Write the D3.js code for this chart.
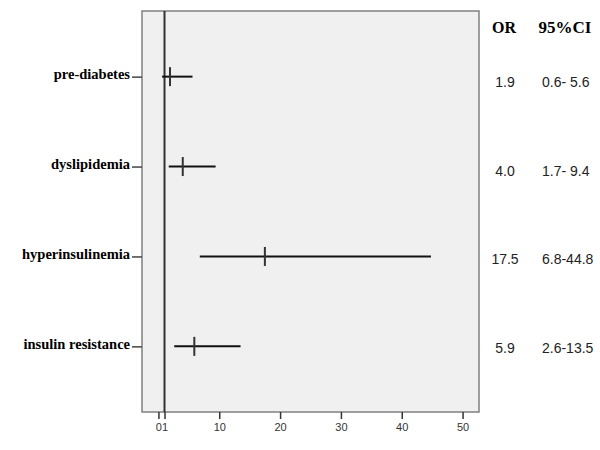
<!DOCTYPE html>
<html>
<head>
<meta charset="utf-8">
<script src="https://cdn.jsdelivr.net/npm/d3@7"></script>
<style>
  body { margin: 0; background: #fff; }
</style>
</head>
<body>
<script>
// data
let categories = ["pre-diabetes", "dyslipidemia", "hyperinsulinemia", "insulin resistance"];
let orValues = [1.9, 4.0, 17.5, 5.9];
let ciLow = [0.6, 1.7, 6.8, 2.6];
let ciHigh = [5.6, 9.4, 44.8, 13.5];
let orLabels = ["1.9", "4.0", "17.5", "5.9"];
let ciLabels = ["0.6- 5.6", "1.7- 9.4", "6.8-44.8", "2.6-13.5"];
let xTicks = [0, 1, 10, 20, 30, 40, 50];

let rows = categories.map(function (c, i) {
    return { cat: c, or: orValues[i], lo: ciLow[i], hi: ciHigh[i], orText: orLabels[i], ciText: ciLabels[i] };
});

let box = { left: 142, right: 479, top: 11, bottom: 412 };

let svg = d3.select("body")
    .append("svg")
    .attr("width", 600).attr("height", 450);

let xScale = d3.scaleLinear()
    .domain([-2.7, 52.7])
    .range([box.left, box.right]);

let yScale = d3.scalePoint()
    .domain(categories)
    .range([box.top, box.bottom])
    .padding(0.73);

// text rows of the table on the right sit a bit lower than the markers
let textY = d3.scalePoint()
    .domain(categories)
    .range([87, 353]);

// plot background
svg.append("rect")
    .attr("x", box.left).attr("y", box.top)
    .attr("width", box.right - box.left).attr("height", box.bottom - box.top)
    .attr("fill", "#f0f0f0")
    .attr("stroke", "#808080")
    .attr("stroke-width", 1.5);

// x axis
let xAxis = svg.append("g")
    .attr("transform", "translate(0," + box.bottom + ")")
    .call(d3.axisBottom(xScale).tickValues(xTicks).tickSize(7).tickSizeOuter(0).tickPadding(4));
xAxis.select(".domain").remove();
xAxis.selectAll("line").attr("stroke", "#333").attr("stroke-width", 1.5);
xAxis.selectAll("text")
    .attr("font-family", "Liberation Sans, Arial, sans-serif")
    .attr("font-size", 11)
    .attr("fill", "#333");

// y axis
let yAxis = svg.append("g")
    .attr("transform", "translate(" + box.left + ",0)")
    .call(d3.axisLeft(yScale).tickSize(10).tickPadding(2));
yAxis.select(".domain").remove();
yAxis.selectAll("line").attr("stroke", "#444").attr("stroke-width", 1.5);
yAxis.selectAll("text")
    .attr("dy", "0.15em")
    .attr("font-family", "Liberation Serif, Times New Roman, serif")
    .attr("font-weight", "bold")
    .attr("font-size", 14.5)
    .attr("fill", "#000");

// reference line at OR = 1
svg.append("line")
    .attr("x1", xScale(1)).attr("x2", xScale(1))
    .attr("y1", box.top).attr("y2", box.bottom)
    .attr("stroke", "#333")
    .attr("stroke-width", 2);

// confidence intervals
svg.selectAll("line.ci")
    .data(rows).enter()
    .append("line")
    .attr("class", "ci")
    .attr("x1", function (d) { return xScale(d.lo); })
    .attr("x2", function (d) { return xScale(d.hi); })
    .attr("y1", function (d) { return yScale(d.cat); })
    .attr("y2", function (d) { return yScale(d.cat); })
    .attr("stroke", "#111")
    .attr("stroke-width", 2);

// odds ratio markers
svg.selectAll("line.or")
    .data(rows).enter()
    .append("line")
    .attr("class", "or")
    .attr("x1", function (d) { return xScale(d.or); })
    .attr("x2", function (d) { return xScale(d.or); })
    .attr("y1", function (d) { return yScale(d.cat) - 9.5; })
    .attr("y2", function (d) { return yScale(d.cat) + 9.5; })
    .attr("stroke", "#333")
    .attr("stroke-width", 2);

// table headers
svg.append("text")
    .attr("x", 504).attr("y", 33)
    .attr("text-anchor", "middle")
    .attr("font-family", "Liberation Serif, Times New Roman, serif")
    .attr("font-weight", "bold")
    .attr("font-size", 16)
    .text("OR");

svg.append("text")
    .attr("x", 565).attr("y", 33)
    .attr("text-anchor", "middle")
    .attr("font-family", "Liberation Serif, Times New Roman, serif")
    .attr("font-weight", "bold")
    .attr("font-size", 17)
    .text("95%CI");

// table values
svg.selectAll("text.orv")
    .data(rows).enter()
    .append("text")
    .attr("class", "orv")
    .attr("x", 505)
    .attr("y", function (d) { return textY(d.cat); })
    .attr("text-anchor", "middle")
    .attr("font-family", "Liberation Sans, Arial, sans-serif")
    .attr("font-size", 14)
    .attr("fill", "#222")
    .text(function (d) { return d.orText; });

svg.selectAll("text.civ")
    .data(rows).enter()
    .append("text")
    .attr("class", "civ")
    .attr("x", 542)
    .attr("y", function (d) { return textY(d.cat); })
    .attr("font-family", "Liberation Sans, Arial, sans-serif")
    .attr("font-size", 14)
    .attr("fill", "#222")
    .text(function (d) { return d.ciText; });
</script>
</body>
</html>
